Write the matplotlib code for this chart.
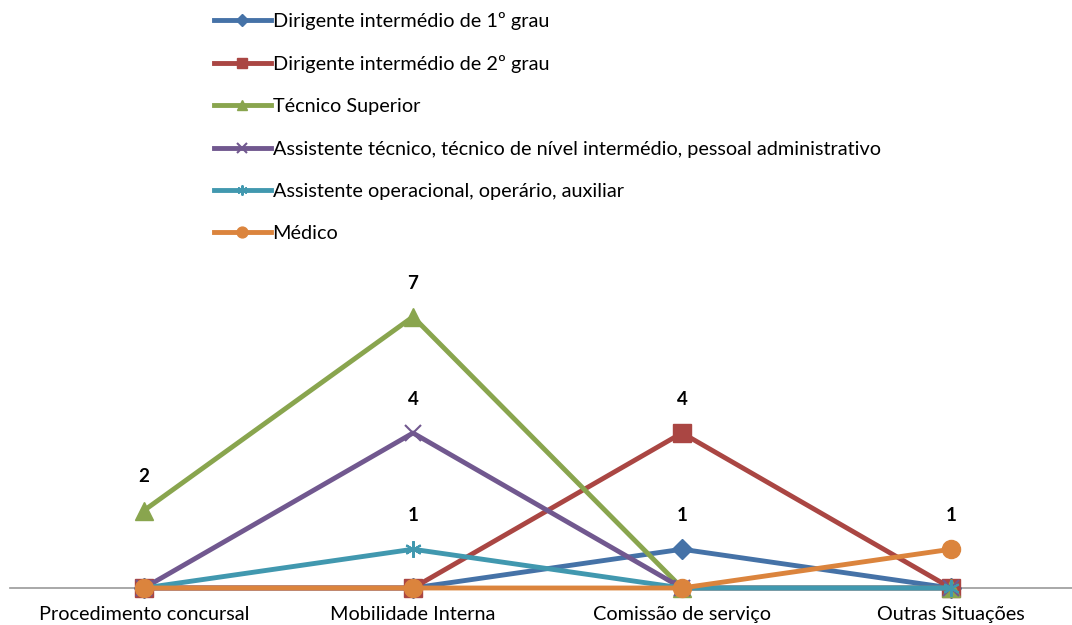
import matplotlib.pyplot as plt
import numpy as np

plt.rcParams['font.family'] = ['Lato', 'DejaVu Sans']

categorias = ["Procedimento concursal", "Mobilidade Interna",
              "Comissão de serviço", "Outras Situações"]

series = ["Dirigente intermédio de 1º grau",
          "Dirigente intermédio de 2º grau",
          "Técnico Superior",
          "Assistente técnico, técnico de nível intermédio, pessoal administrativo",
          "Assistente operacional, operário, auxiliar",
          "Médico"]

dirigente_1 = [0, 0, 1, 0]
dirigente_2 = [0, 0, 4, 0]
tecnico_sup = [2, 7, 0, 0]
assist_tec = [0, 4, 0, 0]
assist_op = [0, 1, 0, 0]
medico = [0, 0, 0, 1]

valores = [dirigente_1, dirigente_2, tecnico_sup, assist_tec, assist_op, medico]
cores = ["#4572A7", "#AA4643", "#89A54E", "#71588F", "#4198AF", "#DB843D"]
marcadores = ["D", "s", "^", "x", "*", "o"]
tamanhos = [10, 13, 13, 12, 12, 13]

fig = plt.figure(figsize=(10.72, 6.25), dpi=100)
# eixo a ocupar a largura toda, zero a 588 px do topo
ax = fig.add_axes([9.5 / 1072, 1 - 588 / 625, 1076 / 1072, 310 / 625])

x = np.arange(len(categorias))
for vals, cor, mk, ms, nome in zip(valores, cores, marcadores, tamanhos, series):
    if mk in ("x", "*"):
        if mk == "*":
            mk = (6, 2, 0)
        ax.plot(x, vals, color=cor, lw=3.5, marker=mk, ms=ms,
                markeredgewidth=1.5, label=nome, clip_on=False, zorder=3)
    else:
        ax.plot(x, vals, color=cor, lw=3.5, marker=mk, ms=ms,
                markeredgecolor=cor, label=nome, clip_on=False, zorder=3)

# rótulos apenas nos valores diferentes de zero
for vals in valores:
    for xi, v in zip(x, vals):
        if v:
            ax.text(xi, v + 0.87, str(v), ha="center", va="center",
                    fontsize=13.5, fontweight="bold")

ax.set_xlim(-0.5, 3.5)
ax.set_ylim(0, 8)
ax.set_xticks(x)
ax.set_xticklabels(categorias, fontsize=14.3)
ax.tick_params(axis="x", length=0, pad=13)
ax.set_yticks([])
for lado in ("top", "right", "left"):
    ax.spines[lado].set_visible(False)
ax.spines["bottom"].set_color("#999999")
ax.spines["bottom"].set_linewidth(1.2)
ax.spines["bottom"].set_zorder(1)
ax.set_zorder(1)

handles, labels = ax.get_legend_handles_labels()
fig.legend(handles, labels, loc="upper left",
           bbox_to_anchor=(214 / 1072, 1 - 12 / 625),
           frameon=False, fontsize=14.3, handlelength=2.85, handletextpad=0.1,
           labelspacing=1.27, markerscale=0.6, borderpad=0, borderaxespad=0)

fig.savefig("out.png", dpi=100)
